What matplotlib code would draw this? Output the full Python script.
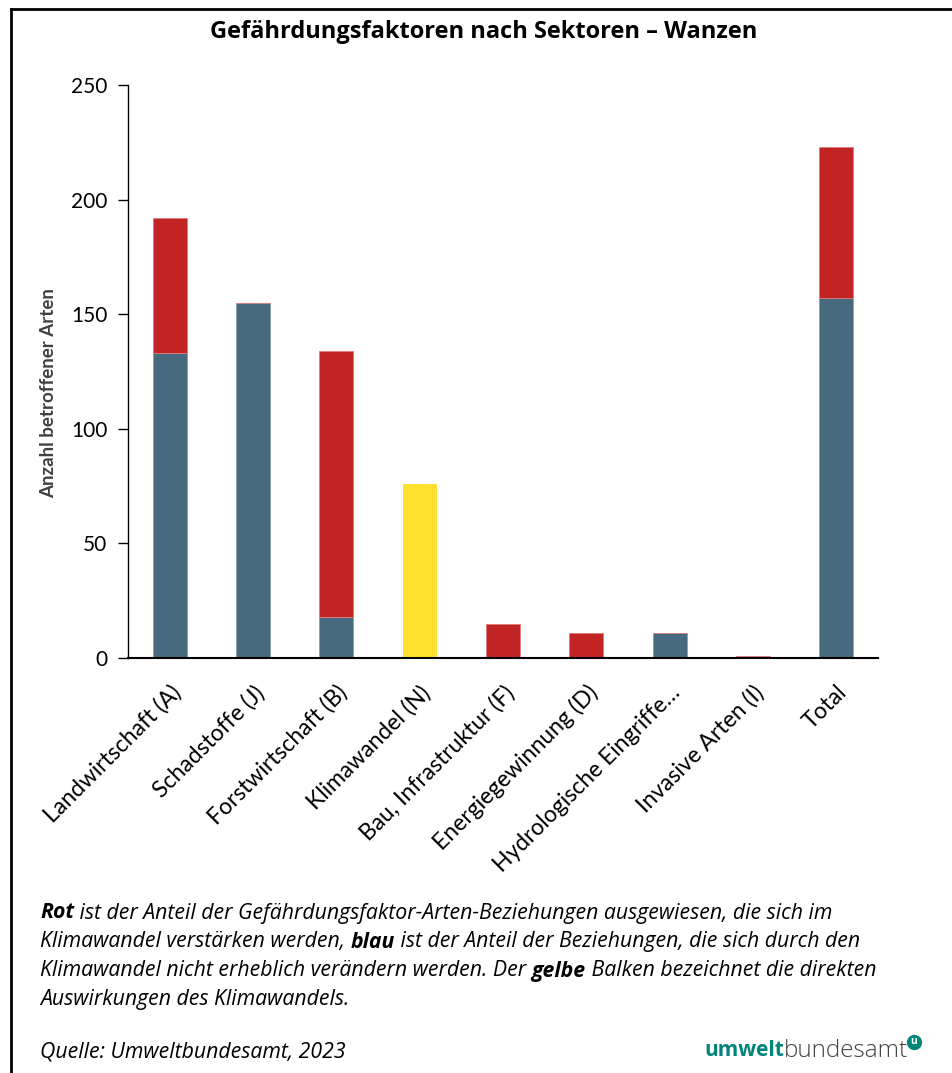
import matplotlib.pyplot as plt
from matplotlib.lines import Line2D

# Gefährdungsfaktoren je Sektor, Wanzen
sektoren = ["Landwirtschaft (A)", "Schadstoffe (J)", "Forstwirtschaft (B)",
            "Klimawandel (N)", "Bau, Infrastruktur (F)", "Energiegewinnung (D)",
            "Hydrologische Eingriffe…", "Invasive Arten (I)", "Total"]
blau = [133, 155, 18, 0, 0, 0, 11, 0, 157]
rot = [59, 0, 116, 0, 15, 11, 0, 1, 66]
gelb = [0, 0, 0, 76, 0, 0, 0, 0, 0]
y_ticks = [0, 50, 100, 150, 200, 250]

c_blau = "#476a7e"
c_rot = "#c22424"
c_gelb = "#ffe02e"

plt.rcParams["font.family"] = ["Open Sans", "DejaVu Sans"]
achsenschrift = ["Lato", "DejaVu Sans"]

fig = plt.figure(figsize=(9.52, 10.73), dpi=100)
ax = fig.add_axes([0.1345, 0.3868, 0.7878, 0.534])

x = list(range(len(sektoren)))
w = 0.41
ax.bar(x, blau, width=w, color=c_blau, edgecolor="#8aa0ae", linewidth=0.6)
ax.bar(x, rot, width=w, bottom=blau, color=c_rot, edgecolor="#e07a7a", linewidth=0.6)
ax.bar(x, gelb, width=w, color=c_gelb, linewidth=0)

ax.set_xlim(-0.5, len(sektoren) - 0.5)
ax.set_ylim(0, 250)
ax.set_yticks(y_ticks)
ax.set_yticklabels([str(v) for v in y_ticks], fontsize=15, family=achsenschrift)
ax.set_xticks(x)
ax.set_xticklabels(sektoren, rotation=45, ha="right", va="top", rotation_mode="anchor",
                   fontsize=16.5, family=achsenschrift)
ax.tick_params(axis="x", length=0, pad=17)
ax.tick_params(axis="y", length=7, width=1, direction="out", pad=8)
for s in ["top", "right"]:
    ax.spines[s].set_visible(False)
ax.spines["left"].set_linewidth(1)
ax.spines["bottom"].set_linewidth(1.5)

ax.set_ylabel("Anzahl betroffener Arten", fontsize=13.5, fontweight="bold",
              color="#404040", family=achsenschrift)
ax.yaxis.set_label_coords(-0.095, 0.462)

fig.text(0.508, 0.970, "Gefährdungsfaktoren nach Sektoren – Wanzen",
         ha="center", va="center", fontsize=17, fontweight="bold")

# Erläuterung unter dem Diagramm
zeilen = [
    [("Rot", "bold"), (" ist der Anteil der Gefährdungsfaktor-Arten-Beziehungen ausgewiesen, die sich im", "normal")],
    [("Klimawandel verstärken werden, ", "normal"), ("blau", "bold"),
     (" ist der Anteil der Beziehungen, die sich durch den", "normal")],
    [("Klimawandel nicht erheblich verändern werden. Der ", "normal"), ("gelbe", "bold"),
     (" Balken bezeichnet die direkten", "normal")],
    [("Auswirkungen des Klimawandels.", "normal")],
]
fig.canvas.draw()
renderer = fig.canvas.get_renderer()
y0 = 1 - 913 / 1073
dy = 29 / 1073
for i, zeile in enumerate(zeilen):
    xpos = 40 / 952
    for txt, fw in zeile:
        t = fig.text(xpos, y0 - i * dy, txt, ha="left", va="center", fontsize=15.3,
                     style="italic", fontweight=fw)
        bb = t.get_window_extent(renderer=renderer)
        xpos += bb.width / fig.bbox.width

fig.text(40 / 952, 1 - 1052 / 1073, "Quelle: Umweltbundesamt, 2023", ha="left",
         va="center", fontsize=15.3, style="italic")

# Logo-Schriftzug
t1 = fig.text(704 / 952, 1 - 1051 / 1073, "umwelt", ha="left", va="center",
              fontsize=15, fontweight="bold", color="#00857b")
bb = t1.get_window_extent(renderer=renderer)
t2 = fig.text(bb.x1 / fig.bbox.width, 1 - 1051 / 1073, "bundesamt", ha="left",
              va="center", fontsize=17.5, fontweight="light", color="#444444")
bb2 = t2.get_window_extent(renderer=renderer)
cx = bb2.x1 / fig.bbox.width + 0.006
cy = 1 - 1042 / 1073
fig.add_artist(Line2D([cx], [cy], marker="o", markersize=10, color="#00857b",
                      transform=fig.transFigure))
fig.text(cx, cy, "u", ha="center", va="center", fontsize=7.5, fontweight="bold",
         color="white")

# Rahmen
fig.add_artist(Line2D([11 / 952, 11 / 952], [0, 1 - 9 / 1073], color="black",
                      linewidth=2, transform=fig.transFigure))
fig.add_artist(Line2D([11 / 952, 1], [1 - 9 / 1073, 1 - 9 / 1073], color="black",
                      linewidth=2, transform=fig.transFigure))

fig.savefig("out.png", dpi=100)
